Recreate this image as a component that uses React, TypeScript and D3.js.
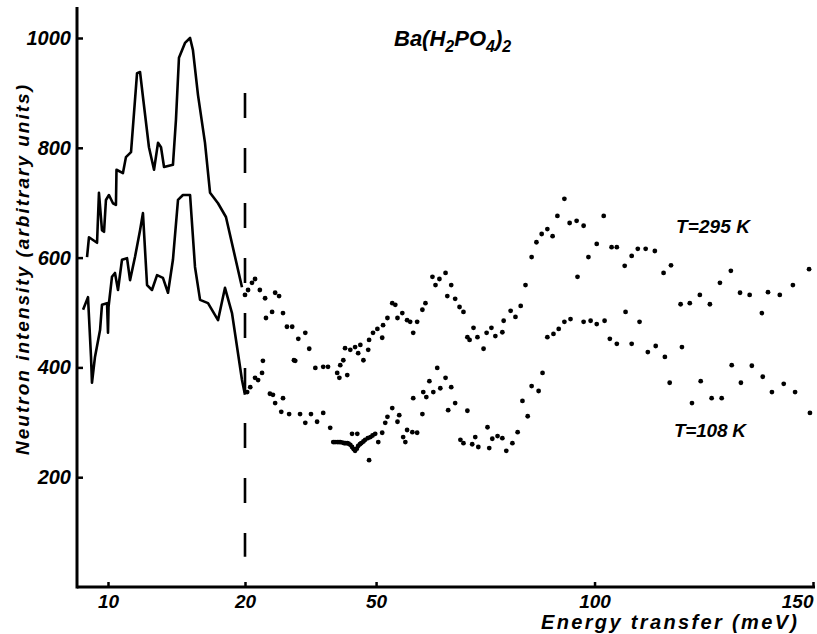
import React, { useEffect, useRef } from "react";
import * as d3 from "d3";

const xTicks = [10, 20, 50, 100, 150];
const yTicks = [200, 400, 600, 800, 1000];

// [energy meV, intensity]
// T = 295 K, solid line on the expanded part (< 20 meV)
const warmLine: [number, number][] = [
  [8.47, 601], [8.61, 637], [9.2, 627], [9.34, 718], [9.56, 650], [9.71, 647],
  [9.85, 705], [10.07, 714], [10.36, 699], [10.58, 696], [10.62, 760], [11.09, 754],
  [11.31, 783], [11.68, 792], [12.12, 936], [12.34, 938], [12.55, 893], [12.99, 801],
  [13.36, 760], [13.65, 809], [13.87, 801], [14.09, 765], [14.74, 769], [14.96, 851],
  [15.18, 964], [15.62, 991], [15.99, 1000], [16.2, 978], [16.57, 896], [17.08, 809],
  [17.45, 718], [18.03, 699], [18.61, 674], [19.78, 546]
];

// T = 108 K, solid line
const coldLine: [number, number][] = [
  [8.18, 505], [8.54, 528], [8.76, 419], [8.83, 372], [9.05, 419], [9.42, 468],
  [9.56, 514], [9.93, 517], [10.0, 463], [10.04, 510], [10.29, 565], [10.51, 572],
  [10.73, 541], [11.02, 596], [11.39, 599], [11.61, 559], [11.97, 601], [12.34, 650],
  [12.55, 681], [12.85, 550], [13.21, 541], [13.58, 568], [14.01, 563], [14.38, 536],
  [14.74, 596], [15.11, 705], [15.47, 714], [15.99, 714], [16.35, 583], [16.72, 523],
  [17.3, 517], [18.03, 486], [18.54, 545], [19.05, 499], [19.78, 377], [20.0, 350]
];

// T = 295 K, points above 20 meV
const warmDots: [number, number][] = [
  [20.0, 532], [20.7, 541], [21.6, 554], [22.3, 561], [23.4, 541], [24.6, 526], [24.8, 490],
  [26.2, 501], [26.9, 536], [27.8, 530], [28.7, 499], [29.6, 474], [30.8, 474], [31.5, 412],
  [32.2, 452], [33.8, 463], [34.7, 434], [36.1, 399], [37.9, 401], [39.0, 401], [41.1, 390],
  [41.6, 381], [41.8, 404], [42.5, 413], [42.9, 435], [43.4, 386], [44.1, 432], [45.2, 437],
  [45.9, 426], [46.4, 441], [47.1, 413], [48.2, 432], [48.4, 450], [49.3, 463], [50.3, 470],
  [51.4, 454], [51.6, 477], [52.6, 490], [53.7, 517], [54.4, 514], [54.9, 490], [56.0, 499],
  [57.1, 486], [57.8, 483], [58.5, 463], [59.4, 483], [60.6, 505], [61.3, 517], [62.9, 565],
  [63.6, 550], [64.5, 561], [65.9, 572], [66.3, 530], [67.2, 550], [68.1, 525], [69.1, 510],
  [70.0, 501], [70.9, 455], [71.4, 450], [72.3, 472], [73.2, 455], [74.6, 434], [75.3, 463],
  [76.4, 472], [77.3, 457], [78.9, 464], [79.2, 485], [80.8, 503], [81.9, 492], [83.1, 512],
  [84.2, 550], [85.6, 601], [86.7, 628], [87.9, 643], [89.2, 652], [90.4, 639], [91.5, 676],
  [93.1, 707], [94.3, 663], [95.9, 667], [96.1, 565], [97.5, 658], [98.6, 601], [100.5, 625],
  [102.1, 676], [103.9, 619], [105.1, 619], [106.9, 585], [108.5, 603], [109.9, 616],
  [111.7, 616], [113.8, 612], [115.8, 572], [117.5, 586], [119.7, 515], [121.8, 517],
  [124.1, 532], [126.4, 515], [128.7, 554], [131.2, 576], [133.3, 536], [135.5, 532],
  [138.3, 499], [139.7, 537], [142.4, 532], [145.4, 550], [149.1, 579]
];

// T = 108 K, points above 20 meV
const coldDots: [number, number][] = [
  [20.5, 355], [21.2, 364], [22.3, 381], [23.0, 377], [23.9, 390], [24.1, 412], [25.7, 352],
  [26.4, 350], [26.9, 335], [28.3, 319], [28.7, 344], [30.1, 315], [31.2, 413], [32.6, 315],
  [33.8, 299], [35.1, 315], [36.5, 301], [37.9, 317], [39.5, 290], [40.2, 264], [40.6, 264],
  [41.1, 264], [41.5, 264], [41.8, 264], [42.3, 263], [42.7, 262], [43.0, 262], [43.4, 262],
  [43.7, 261], [44.1, 259], [44.5, 255], [44.9, 251], [45.2, 248], [45.6, 252], [45.9, 257],
  [46.3, 260], [46.6, 262], [47.1, 265], [47.5, 268], [48.1, 271], [48.7, 273], [49.2, 276],
  [49.8, 279], [44.5, 279], [45.7, 279], [48.4, 231], [50.5, 264], [51.4, 281], [52.1, 299],
  [52.6, 310], [53.7, 326], [54.9, 301], [55.3, 313], [56.2, 273], [56.7, 264], [57.1, 286],
  [58.3, 282], [59.4, 281], [58.5, 344], [60.6, 315], [60.8, 355], [61.5, 346], [62.2, 375],
  [63.1, 355], [64.0, 399], [64.7, 362], [65.9, 381], [66.5, 322], [67.2, 364], [68.1, 335],
  [69.3, 268], [70.0, 262], [70.9, 321], [72.0, 260], [72.7, 273], [73.4, 255], [75.5, 291],
  [75.9, 253], [76.6, 270], [77.8, 275], [78.9, 271], [79.8, 248], [81.2, 262], [82.4, 282],
  [83.5, 339], [84.7, 311], [85.6, 366], [87.2, 357], [88.1, 390], [89.2, 455], [90.6, 461],
  [91.8, 470], [93.1, 483], [94.5, 488], [97.5, 483], [99.1, 485], [100.5, 479], [102.3, 485],
  [103.5, 452], [105.1, 443], [107.1, 501], [108.5, 443], [110.3, 483], [112.2, 428],
  [114.0, 439], [116.1, 419], [117.2, 372], [120.0, 437], [122.3, 335], [124.3, 375],
  [126.8, 344], [129.1, 344], [131.4, 404], [133.5, 372], [136.0, 403], [138.5, 383],
  [140.6, 355], [143.3, 370], [145.9, 355], [149.3, 317]
];

const SVGWidth = 817;
const SVGHeight = 634;
const FONT = "'Liberation Sans', Arial, sans-serif";

const App = () => {
  const svgRef = useRef<SVGSVGElement>(null);

  useEffect(() => {
    const svg = d3.select(svgRef.current);
    svg.selectAll("*").remove();

    // the energy axis is stretched below 20 meV
    const x = d3.scaleLinear().domain([10, 20, 150]).range([108, 245, 813]);
    const y = d3.scaleLinear().domain([0, 1000]).range([587, 38]);

    const line = d3
      .line<[number, number]>()
      .x((d) => x(d[0]))
      .y((d) => y(d[1]));

    [warmLine, coldLine].forEach((s) => {
      svg
        .append("path")
        .attr("d", line(s))
        .attr("fill", "none")
        .attr("stroke", "#000")
        .attr("stroke-width", 2.6)
        .attr("stroke-linejoin", "round");
    });

    [warmDots, coldDots].forEach((s) => {
      svg
        .append("g")
        .selectAll("circle")
        .data(s)
        .enter()
        .append("circle")
        .attr("cx", (d) => x(d[0]))
        .attr("cy", (d) => y(d[1]))
        .attr("r", 2.4)
        .attr("fill", "#000");
    });

    // dashed marker at 20 meV
    svg
      .append("line")
      .attr("x1", x(20))
      .attr("x2", x(20))
      .attr("y1", y(900))
      .attr("y2", y(55))
      .attr("stroke", "#000")
      .attr("stroke-width", 2.6)
      .attr("stroke-dasharray", "25 30");

    // y axis
    const yAxis = svg
      .append("g")
      .attr("transform", `translate(77,0)`)
      .call(
        d3.axisLeft(y).tickValues(yTicks).tickSizeInner(-6).tickSizeOuter(0).tickPadding(6).tickFormat(d3.format("d"))
      );
    yAxis.select(".domain").remove();
    yAxis.selectAll("line").attr("stroke-width", 2.5);
    yAxis
      .selectAll("text")
      .attr("font-family", FONT)
      .attr("font-size", 20)
      .attr("font-weight", "bold")
      .attr("font-style", "italic")
      .attr("fill", "#000");

    svg
      .append("line")
      .attr("x1", 77)
      .attr("x2", 77)
      .attr("y1", 7)
      .attr("y2", y(0) + 1.5)
      .attr("stroke", "#000")
      .attr("stroke-width", 3);

    // x axis
    const xAxis = svg
      .append("g")
      .attr("transform", `translate(0,${y(0)})`)
      .call(
        d3.axisBottom(x).tickValues(xTicks).tickSizeInner(-5).tickSizeOuter(0).tickPadding(8).tickFormat(d3.format("d"))
      );
    xAxis.select(".domain").remove();
    xAxis.selectAll("line").attr("stroke-width", 2.5);
    xAxis
      .selectAll("text")
      .attr("font-family", FONT)
      .attr("font-size", 19)
      .attr("font-weight", "bold")
      .attr("font-style", "italic")
      .attr("fill", "#000")
      .attr("text-anchor", (d) => (d === 150 ? "end" : "middle"));

    svg
      .append("line")
      .attr("x1", 77)
      .attr("x2", 815)
      .attr("y1", y(0))
      .attr("y2", y(0))
      .attr("stroke", "#000")
      .attr("stroke-width", 3);

    const label = (t: string, px: number, py: number, size: number, len: number) =>
      svg
        .append("text")
        .attr("x", px)
        .attr("y", py)
        .attr("font-family", FONT)
        .attr("font-size", size)
        .attr("font-weight", "bold")
        .attr("font-style", "italic")
        .attr("textLength", len)
        .text(t);

    label("Energy transfer (meV)", 541, 629, 20, 256);
    label("T=295 K", 676, 233, 19, 74);
    label("T=108 K", 674, 437, 19, 72);

    svg
      .append("text")
      .attr("transform", "translate(29,270) rotate(-90)")
      .attr("text-anchor", "middle")
      .attr("font-family", FONT)
      .attr("font-size", 19)
      .attr("font-weight", "bold")
      .attr("font-style", "italic")
      .attr("textLength", 370)
      .text("Neutron intensity (arbitrary units)");

    // title Ba(H2PO4)2
    const title = svg
      .append("text")
      .attr("x", 394)
      .attr("y", 46)
      .attr("font-family", FONT)
      .attr("font-size", 22)
      .attr("font-weight", "bold")
      .attr("font-style", "italic");
    const parts: [string, boolean][] = [
      ["Ba(H", false], ["2", true], ["PO", false], ["4", true], [")", false], ["2", true]
    ];
    let sub = false;
    parts.forEach(([t, s]) => {
      title
        .append("tspan")
        .attr("dy", s === sub ? 0 : s ? 6 : -6)
        .attr("font-size", s ? 16 : 22)
        .text(t);
      sub = s;
    });
  }, []);

  return (
    <svg
      ref={svgRef}
      width={SVGWidth}
      height={SVGHeight}
      style={{ position: "absolute", left: 0, top: 0, background: "#fff" }}
    ></svg>
  );
};

export default App;
